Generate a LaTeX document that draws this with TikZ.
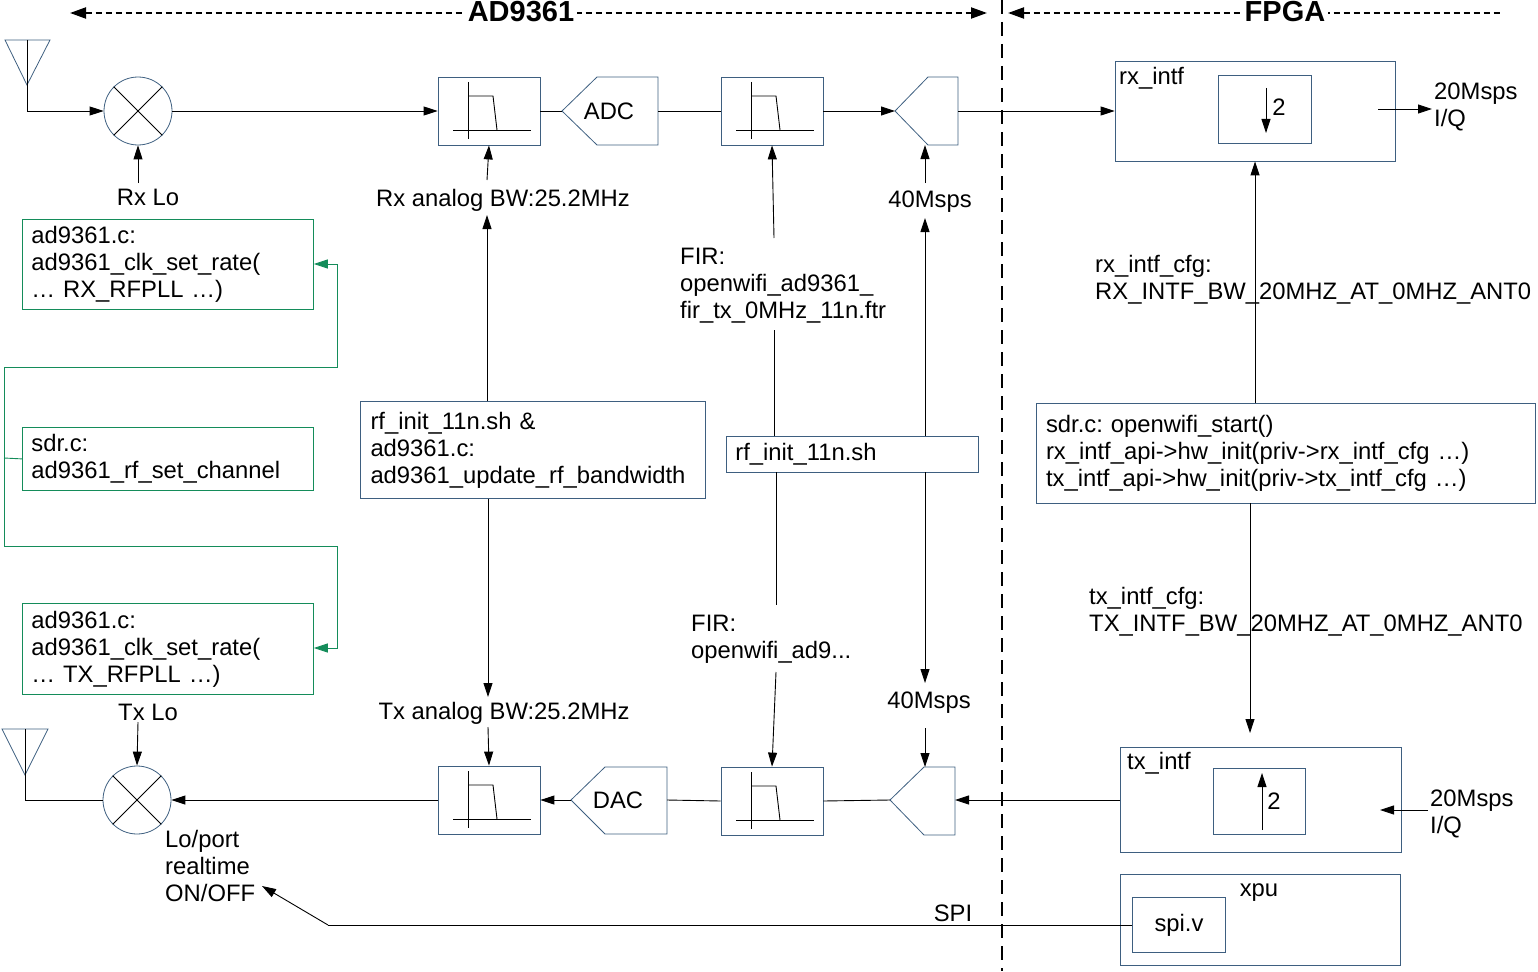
\documentclass[tikz,border=0pt]{standalone}
\usepackage{fontspec}
\setmainfont{Liberation Sans}
\usetikzlibrary{arrows.meta,shapes.geometric}
\definecolor{bx}{RGB}{62,95,128}
\definecolor{gr}{RGB}{20,140,90}
\tikzset{
  every node/.style={font=\fontsize{23.8}{27}\selectfont\frenchspacing, inner sep=0pt},
  box/.style={draw=bx, line width=0.8pt, minimum width=#1},
  gbox/.style={draw=gr, line width=0.8pt, align=left, text width=#1, inner xsep=9pt, inner ysep=5pt},
  ar/.style={-{Triangle[length=14pt,width=9pt]}, line width=0.9pt},
  ln/.style={line width=0.9pt},
  gar/.style={-{Triangle[length=14pt,width=9pt]}, draw=gr, line width=0.9pt},
  lbl/.style={anchor=west, align=left},
  hdr/.style={fill=white, inner xsep=3pt, font=\fontsize{29}{30}\selectfont\bfseries},
}
\newcommand{\filtglyph}[2]{%
  \draw[ln] (#1+30,#2+5) -- (#1+30,#2+62);
  \draw[ln] (#1+15,#2+53) -- (#1+93,#2+53);
  \draw[ln] (#1+30,#2+19) -- (#1+55,#2+19) -- (#1+59,#2+53);}
\begin{document}
\begin{tikzpicture}[x=1pt,y=-1pt]
\useasboundingbox (0,0) rectangle (1538,971);
% headers
\draw[line width=2pt, dash pattern=on 6pt off 4pt, {Triangle[length=16pt,width=11pt]}-{Triangle[length=16pt,width=11pt]}] (70,13) -- (987,13);
\node[hdr] (hA) at (521,12) {AD9361};
\draw[line width=2pt, dash pattern=on 6pt off 4pt, {Triangle[length=16pt,width=11pt]}-] (1008,13) -- (1500,13);
\node[hdr] (hF) at (1285,12) {FPGA};
\draw[line width=2.4pt, dash pattern=on 14pt off 8pt] (1002,0) -- (1002,971);

% antennas
\draw[draw=bx, line width=0.8pt] (5,40) -- (50,40) -- (27,85) -- cycle;
\coordinate (a1) at (27,40); \coordinate (a1b) at (27,111);
\draw[draw=bx, line width=0.8pt] (2,729) -- (48,729) -- (25,775) -- cycle;
\coordinate (a2) at (25,729); \coordinate (a2b) at (25,800);

% mixers
\node[circle, draw=bx, line width=0.8pt, minimum size=68pt] (mx1) at (138,111) {};
\draw[ln] (mx1.north west) -- (mx1.south east) (mx1.north east) -- (mx1.south west);
\node[circle, draw=bx, line width=0.8pt, minimum size=68pt] (mx2) at (137,800) {};
\draw[ln] (mx2.north west) -- (mx2.south east) (mx2.north east) -- (mx2.south west);

% filters
\node[box=102pt, minimum height=68pt] (f1) at (489,111) {}; \filtglyph{438}{77}
\node[box=102pt, minimum height=68pt] (f2) at (772,111) {}; \filtglyph{721}{77}
\node[box=102pt, minimum height=68pt] (f3) at (489,800) {}; \filtglyph{438}{766}
\node[box=102pt, minimum height=68pt] (f4) at (772,801) {}; \filtglyph{721}{767}

% ADC / DAC / rate shapes
\draw[draw=bx, line width=0.8pt] (562,111) -- (597,77) -- (658,77) -- (658,145) -- (597,145) -- cycle;
\node (adc) at (609,111) {ADC};
\coordinate (adcL) at (562,111); \coordinate (adcR) at (658,111);
\draw[draw=bx, line width=0.8pt] (571,800) -- (605,767) -- (667,767) -- (667,834) -- (605,834) -- cycle;
\node (dac) at (618,800) {DAC};
\coordinate (dacL) at (571,800); \coordinate (dacR) at (667,800);
\draw[draw=bx, line width=0.8pt] (895,111) -- (928,77) -- (958,77) -- (958,145) -- (928,145) -- cycle;
\coordinate (r1L) at (895,111); \coordinate (r1R) at (958,111); \coordinate (r1B) at (925,145);
\draw[draw=bx, line width=0.8pt] (890,800) -- (924,767) -- (955,767) -- (955,835) -- (924,835) -- cycle;
\coordinate (r2L) at (890,800); \coordinate (r2R) at (955,800); \coordinate (r2T) at (925,767);

% FPGA blocks
\node[box=280pt, minimum height=100pt] (rxi) at (1255,111) {};
\node[lbl] (rxil) at (1119,78) {rx\_intf};
\node[box=93pt, minimum height=68pt] (rxin) at (1265,109) {};
\coordinate (d1) at (1266,88); \coordinate (d2) at (1266,133);
\draw[ar] (d1) -- (d2);
\node (two1) at (1279,107) {2};
\node[box=281pt, minimum height=105pt] (txi) at (1261,800) {};
\node[lbl] (txil) at (1127,763) {tx\_intf};
\node[box=92pt, minimum height=66pt] (txin) at (1259,801) {};
\coordinate (u1) at (1262,830); \coordinate (u2) at (1262,773);
\draw[ar] (u1) -- (u2);
\node (two2) at (1274,801) {2};
\node[box=280pt, minimum height=91pt] (xpu) at (1260,920) {};
\node (xpul) at (1259,893) {xpu};
\node[box=93pt, minimum height=55pt] (spi) at (1179,925) {spi.v};

% main signal paths
\draw[ln] (a1) -- (a1b); \draw[ar] (a1b) -- (mx1.west);
\draw[ar] (mx1.east) -- (f1.west);
\draw[ln] (f1.east) -- (adcL);
\draw[ln] (adcR) -- (f2.west);
\draw[ar] (f2.east) -- (r1L);
\draw[ar] (r1R) -- (rxi.west);
\coordinate (o1) at (1378,109); \coordinate (o2) at (1432,109);
\draw[ar] (o1) -- (o2);
\node[lbl] (iq1) at (1434,107) {20Msps\\I/Q};

\draw[ln] (a2) -- (a2b) -- (mx2.west);
\draw[ar] (f3.west) -- (mx2.east);
\draw[ar] (dacL) -- (f3.east);
\draw[ln] (dacR) -- (f4.west);
\draw[ln] (f4.east) -- (r2L);
\draw[ar] (txi.west) -- (r2R);
\coordinate (i1) at (1428,810); \coordinate (i2) at (1380,810);
\draw[ar] (i1) -- (i2);
\node[lbl] (iq2) at (1430,814) {20Msps\\I/Q};

% LO
\node (rxlo) at (148,197) {Rx Lo};
\draw[ar] (138,183) -- (mx1.south);
\node (txlo) at (148,712) {Tx Lo};
\draw[ar] (138,722) -- (mx2.north);
\node[lbl] (lop) at (165,866) {Lo/port\\realtime\\ON/OFF};
\coordinate (s1) at (328,925); \coordinate (s2) at (262,886);
\draw[ln] (spi.west) -- (s1); \draw[ar] (s1) -- (s2);
\node (spil) at (953,913) {SPI};

% bandwidth
\node (rxbw) at (503,200) {Rx analog BW:25.2MHz};
\node[box=345pt, minimum height=97pt, align=left, text width=325pt, inner xsep=10pt] (rfbw) at (533,450) {rf\_init\_11n.sh \&\\ad9361.c:\\ad9361\_update\_rf\_bandwidth};
\draw[ar] (487,180) -- (f1.south);
\draw[ar] (rfbw.north -| 487,0) -- (487,215);
\node (txbw) at (504,713) {Tx analog BW:25.2MHz};
\draw[ar] (rfbw.south -| 488,0) -- (488,697);
\draw[ar] (488,727) -- (f3.north);

% FIR
\node[lbl] (fir1) at (680,286) {FIR:\\openwifi\_ad9361\_\\fir\_tx\_0MHz\_11n.ftr};
\node[box=252pt, minimum height=36pt, anchor=west, inner xsep=9pt, align=left, text width=234pt] (rfi) at (726,454) {rf\_init\_11n.sh};
\draw[ar] (774,238) -- (f2.south);
\draw[ln] (774,330) -- (rfi.north -| 774,0);
\draw[ln] (rfi.south -| 776,0) -- (776,605);
\node[lbl] (fir2) at (691,639) {FIR:\\openwifi\_ad9...};
\draw[ar] (776,672) -- (f4.north);

% 40Msps
\node (m1) at (930,202) {40Msps};
\node (m2) at (929,703) {40Msps};
\draw[ar] (925,183) -- (r1B);
\draw[ar] (rfi.north -| 925,0) -- (925,218);
\draw[ar] (rfi.south -| 925,0) -- (925,683);
\draw[ar] (925,728) -- (r2T);

% sdr.c
\node[box=499pt, minimum height=100pt, align=left, text width=480pt, inner xsep=9pt] (sdr) at (1286,453) {sdr.c: openwifi\_start()\\rx\_intf\_api->hw\_init(priv->rx\_intf\_cfg \dots)\\tx\_intf\_api->hw\_init(priv->tx\_intf\_cfg \dots)};
\draw[ar] (sdr.north -| 1255,0) -- (rxi.south -| 1255,0);
\node[lbl] (rxc) at (1095,280) {rx\_intf\_cfg:\\RX\_INTF\_BW\_20MHZ\_AT\_0MHZ\_ANT0};
\draw[ar] (sdr.south -| 1250,0) -- (1250,733);
\node[lbl] (txc) at (1089,612) {tx\_intf\_cfg:\\TX\_INTF\_BW\_20MHZ\_AT\_0MHZ\_ANT0};

% green driver boxes
\node[gbox=273pt, minimum height=90pt, anchor=north west] (g1) at (22,219) {ad9361.c:\\ad9361\_clk\_set\_rate(\\\dots{} RX\_RFPLL \dots)};
\node[gbox=273pt, minimum height=63pt, anchor=north west] (g2) at (22,427) {sdr.c:\\ad9361\_rf\_set\_channel};
\node[gbox=273pt, minimum height=91pt, anchor=north west] (g3) at (22,603) {ad9361.c:\\ad9361\_clk\_set\_rate(\\\dots{} TX\_RFPLL \dots)};
\coordinate (gA) at (337,367); \coordinate (gB) at (4,367);
\coordinate (gC) at (4,546); \coordinate (gD) at (337,546);
\draw[draw=gr, line width=0.9pt] (g2.west) -- (4,458);
\draw[gar] (gB) -- (gA) -- (337,264) -- (g1.east |- 0,264);
\draw[gar] (gB) -- (gC) -- (gD) -- (337,648) -- (g3.east |- 0,648);
\end{tikzpicture}
\end{document}
